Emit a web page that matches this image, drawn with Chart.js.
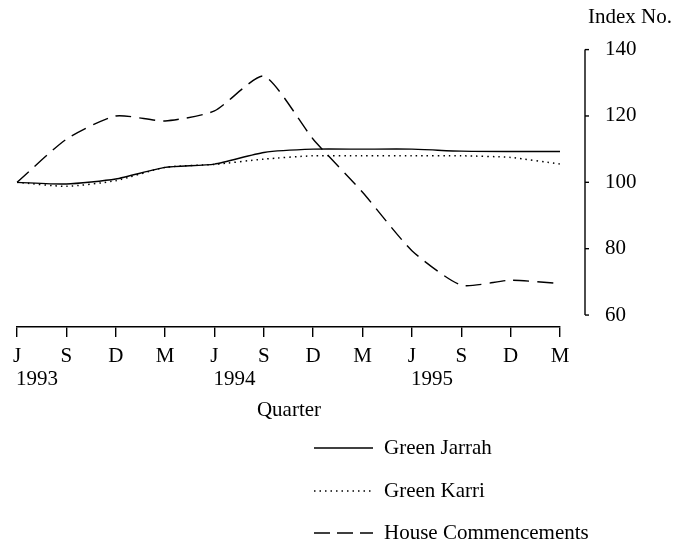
<!DOCTYPE html>
<html>
<head>
<meta charset="utf-8">
<script src="https://cdn.jsdelivr.net/npm/chart.js@4"></script>
<style>
  html, body { margin: 0; padding: 0; background: #fff; }
  #wrap { width: 676px; height: 553px; }
</style>
</head>
<body>
<div id="wrap"><canvas id="chart" width="676" height="553"></canvas></div>
<script>
// quarters and series
const quarters = ["J", "S", "D", "M", "J", "S", "D", "M", "J", "S", "D", "M"];
const years = ["1993", "", "", "", "1994", "", "", "", "1995", "", "", ""];
const yTicks = [60, 80, 100, 120, 140];
const greenJarrah = [100, 99.5, 101, 104.5, 105.5, 109, 110, 110, 110, 109.4, 109.3, 109.3];
const greenKarri = [100, 98.8, 100.5, 104.5, 105.4, 107, 108, 108, 108, 108, 107.5, 105.5];
const houseComm = [100, 113, 120, 118.5, 121.5, 132, 113, 97, 79.4, 69, 70.5, 69.5];

const FONT = "'Liberation Serif', 'DejaVu Serif', serif";
const FSIZE = 21;

// extra drawing: y axis line, year labels, axis titles, legend
const extras = {
  id: "extras",
  afterDraw(chart) {
    const ctx = chart.ctx;
    const x = chart.scales.x, y = chart.scales.y;
    ctx.save();
    ctx.strokeStyle = "#000";
    ctx.fillStyle = "#000";
    ctx.lineWidth = 1.4;

    // right y axis, only 60..140
    const ax = 585;
    ctx.beginPath();
    ctx.moveTo(ax, y.getPixelForValue(140));
    ctx.lineTo(ax, y.getPixelForValue(60));
    ctx.stroke();
    yTicks.forEach(v => {
      const py = y.getPixelForValue(v);
      ctx.beginPath();
      ctx.moveTo(ax, py);
      ctx.lineTo(ax + 4, py);
      ctx.stroke();
    });

    ctx.font = FSIZE + "px " + FONT;
    ctx.textBaseline = "middle";

    // years under the quarter letters
    ctx.textAlign = "left";
    years.forEach((yr, i) => {
      if (!yr) return;
      ctx.fillText(yr, x.getPixelForValue(i) - 1, 379);
    });

    ctx.textAlign = "center";
    ctx.fillText("Quarter", 289, 410);
    ctx.textAlign = "right";
    ctx.fillText("Index No.", 672, 17);

    // legend
    const items = [
      { label: "Green Jarrah", dash: [], y: 448 },
      { label: "Green Karri", dash: [1.5, 4], y: 491 },
      { label: "House Commencements", dash: [16, 7], y: 533 }
    ];
    ctx.textAlign = "left";
    items.forEach(it => {
      ctx.setLineDash(it.dash);
      ctx.beginPath();
      ctx.moveTo(314, it.y);
      ctx.lineTo(373, it.y);
      ctx.stroke();
      ctx.setLineDash([]);
      ctx.fillText(it.label, 384, it.y);
    });
    ctx.restore();
  }
};

new Chart(document.getElementById("chart"), {
  type: "line",
  data: {
    labels: quarters,
    datasets: [
      { label: "Green Jarrah", data: greenJarrah, borderColor: "#000", borderWidth: 1.4, pointRadius: 0, tension: 0.2 },
      { label: "Green Karri", data: greenKarri, borderColor: "#000", borderWidth: 1.5, borderDash: [1.5, 4], pointRadius: 0, tension: 0.2 },
      { label: "House Commencements", data: houseComm, borderColor: "#000", borderWidth: 1.4, borderDash: [16, 8], pointRadius: 0, tension: 0.2 }
    ]
  },
  options: {
    responsive: false,
    animation: false,
    layout: { padding: { left: 17, top: 34, right: 0, bottom: 0 } },
    plugins: { legend: { display: false }, tooltip: { enabled: false } },
    scales: {
      x: {
        offset: false,
        border: { display: true, color: "#000", width: 1.4 },
        grid: { drawOnChartArea: false, drawTicks: true, tickLength: 10, color: "#000", lineWidth: 1.4 },
        ticks: { color: "#000", font: { family: FONT, size: FSIZE }, padding: 7, maxRotation: 0, autoSkip: false },
        afterFit: s => { s.height = 553 - 327; }
      },
      y: {
        position: "right",
        min: 56.4,
        max: 140,
        border: { display: false },
        grid: { display: false },
        afterBuildTicks: s => { s.ticks = yTicks.map(v => ({ value: v })); },
        ticks: { color: "#000", font: { family: FONT, size: FSIZE }, padding: 37 },
        afterFit: s => { s.width = 676 - 560; }
      }
    }
  },
  plugins: [extras]
});
</script>
</body>
</html>
